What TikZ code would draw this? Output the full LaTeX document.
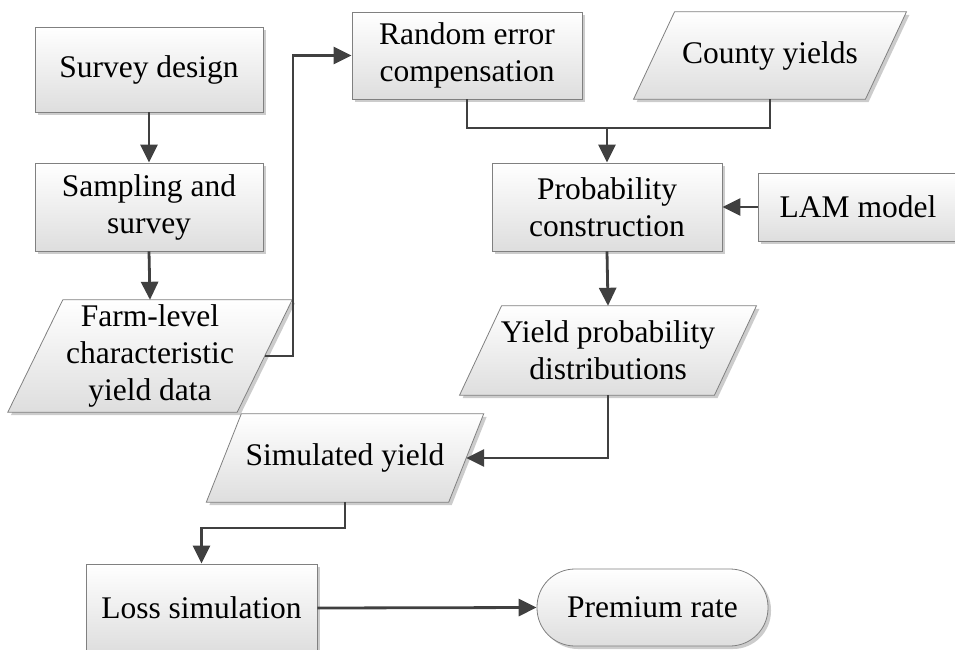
\documentclass[tikz,border=0pt]{standalone}
\usepackage{fontspec}
\setmainfont{Liberation Serif}
\usetikzlibrary{arrows.meta,shadows,backgrounds}
\begin{document}
\begin{tikzpicture}[x=1pt,y=-1pt,
  shade/.style={draw=black!50,line width=0.8pt,top color=white,bottom color=black!13,
    drop shadow={shadow xshift=3pt,shadow yshift=-3pt,fill=black!20,opacity=1}},
  txt/.style={inner sep=0pt,align=center,font=\fontsize{31.5}{37}\selectfont},
  box/.style={shade,txt},
  ptext/.style={txt},
  parabox/.style={shade},
  line/.style={draw=black!75,line width=2.8pt},
  conn/.style={line,-{Triangle[length=18pt,width=17pt]}}]
\useasboundingbox (0,0) rectangle (955,650);
\clip (0,0) rectangle (955,650);

\node[box,minimum width=228pt,minimum height=85pt] (sd) at (149,69.5) {Survey design};
\node[box,minimum width=228pt,minimum height=88pt] (ss) at (149,207) {Sampling and\\survey};
\node[ptext,minimum width=229pt,minimum height=112pt] (fl) at (150,356) {Farm-level\\characteristic\\yield data};
\node[box,minimum width=230pt,minimum height=87pt] (rn) at (467,55.5) {Random error\\compensation};
\node[ptext,minimum width=231.5pt,minimum height=87pt] (cy) at (770,55.5) {County yields};
\node[box,minimum width=230pt,minimum height=88pt] (pc) at (607,207) {Probability\\construction};
\node[box,minimum width=200pt,minimum height=68pt] (lam) at (858,207) {LAM model};
\node[ptext,minimum width=254.5pt,minimum height=89pt] (yp) at (608,350.5) {Yield probability\\distributions};
\node[ptext,minimum width=242pt,minimum height=88pt] (sy) at (345,458) {Simulated yield};
\node[box,minimum width=231pt,minimum height=88pt] (ls) at (201.5,608) {Loss simulation};
\node[box,rounded corners=38pt,minimum width=231pt,minimum height=77pt] (pr) at (652.5,607.5) {Premium rate};

\begin{scope}[on background layer]
\foreach \n/\s in {fl/27.5, cy/20.5, yp/21, sy/17.5} {
  \path[parabox] ([xshift=\s pt]\n.north west) -- ([xshift=\s pt]\n.north east)
     -- ([xshift=-\s pt]\n.south east) -- ([xshift=-\s pt]\n.south west) -- cycle;
}
\end{scope}

\draw[conn] (sd.south) -- (ss.north);
\draw[conn] (ss.south) -- (fl.north);
\coordinate (c1) at (293,356);
\draw[conn] (fl.east) -- (c1) |- (rn.west);
\coordinate (j) at (607,128);
\draw[line] (rn.south) |- (j) -| (cy.south);
\draw[conn] (j) -- (pc.north);
\draw[conn] (lam.west) -- (pc.east);
\draw[conn] (pc.south) -- (yp.north);
\draw[conn] (yp.south) |- (sy.east);
\coordinate (c2) at (345,528);
\draw[conn] (sy.south) -- (c2) -| (ls.north);
\draw[conn] (ls.east) -- (pr.west);
\end{tikzpicture}
\end{document}
